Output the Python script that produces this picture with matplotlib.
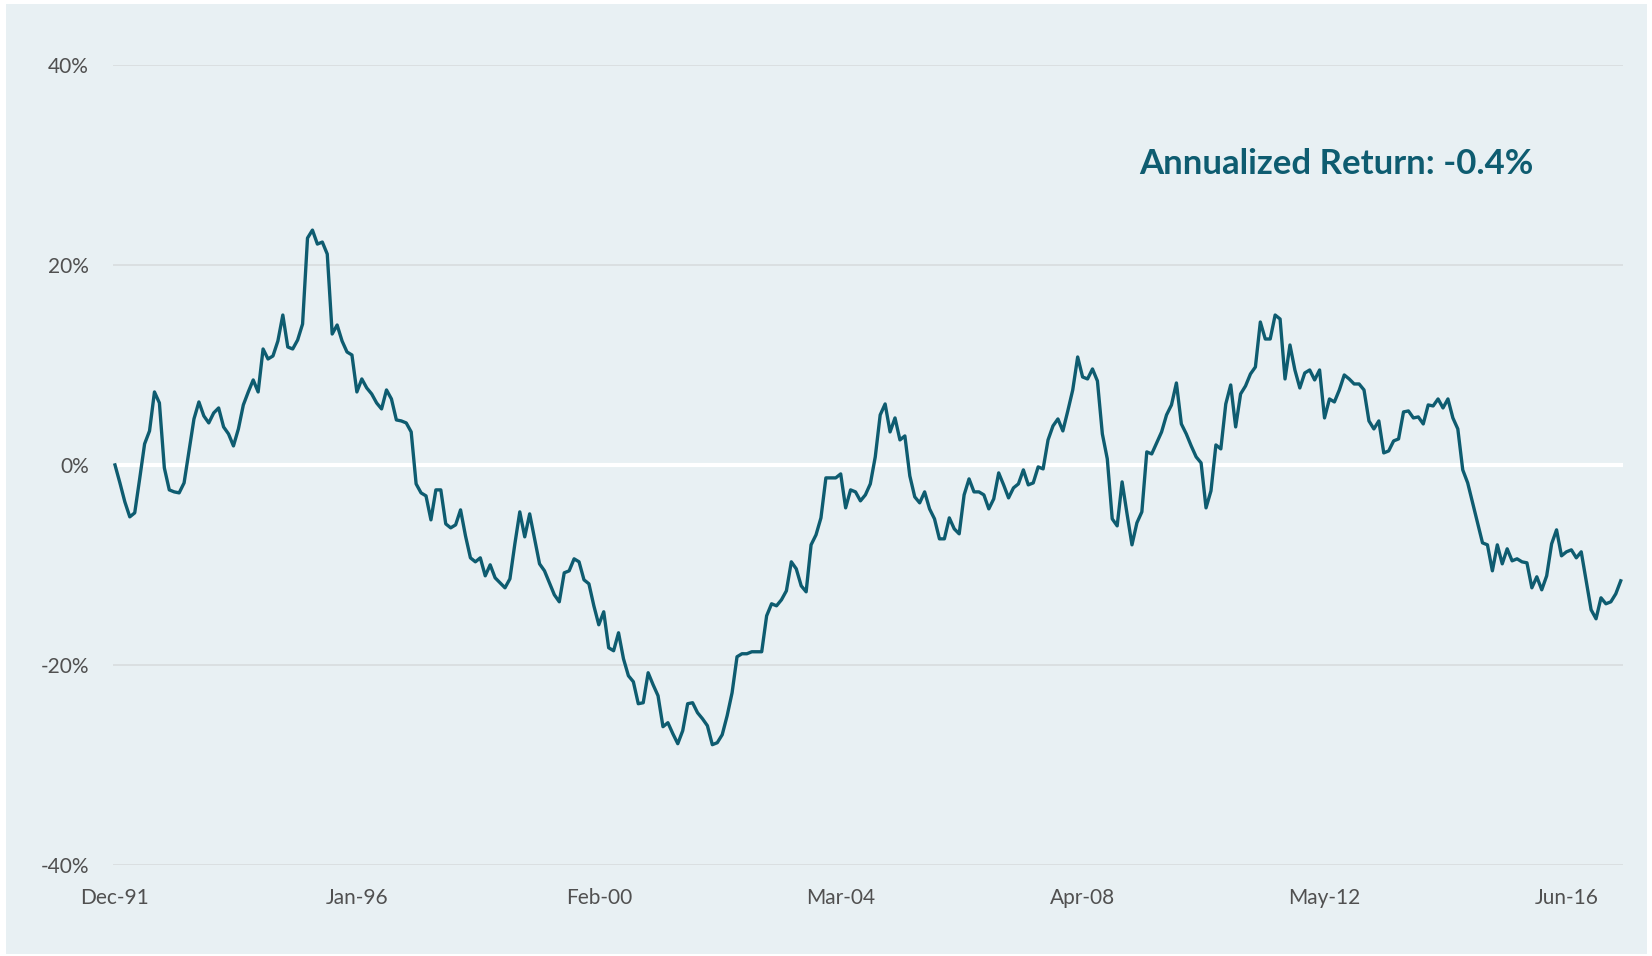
#!/usr/bin/env python3
# coding: utf-8

import numpy as np
import pandas as pd

import matplotlib
matplotlib.use("Agg")
import matplotlib.pyplot as plt
from matplotlib.patches import Rectangle


# monthly cumulative return (%), Dec-91 onwards
returns = [
    0.0, -1.8, -3.7, -5.2, -4.8, -1.4, 2.1, 3.4, 7.3, 6.2,
    -0.3, -2.5, -2.7, -2.8, -1.8, 1.4, 4.6, 6.3, 4.9, 4.2,
    5.2, 5.7, 3.8, 3.1, 1.9, 3.6, 6.0, 7.3, 8.5, 7.3,
    11.6, 10.6, 10.9, 12.4, 15.0, 11.8, 11.6, 12.5, 14.1, 22.7,
    23.5, 22.1, 22.3, 21.1, 13.1, 14.0, 12.4, 11.3, 11.0, 7.3,
    8.6, 7.7, 7.1, 6.2, 5.6, 7.5, 6.6, 4.5, 4.4, 4.2,
    3.3, -1.9, -2.8, -3.1, -5.5, -2.5, -2.5, -5.9, -6.3, -6.0,
    -4.5, -7.1, -9.3, -9.7, -9.3, -11.1, -10.0, -11.3, -11.8, -12.3,
    -11.4, -7.9, -4.7, -7.2, -4.9, -7.4, -9.9, -10.6, -11.8, -13.0,
    -13.7, -10.8, -10.6, -9.4, -9.7, -11.5, -11.9, -14.1, -16.0, -14.7,
    -18.3, -18.6, -16.8, -19.4, -21.1, -21.7, -23.9, -23.8, -20.8, -22.0,
    -23.1, -26.2, -25.8, -26.9, -27.9, -26.6, -23.9, -23.8, -24.8, -25.4,
    -26.1, -28.0, -27.8, -27.0, -25.1, -22.8, -19.2, -18.9, -18.9, -18.7,
    -18.7, -18.7, -15.1, -13.9, -14.1, -13.5, -12.6, -9.7, -10.4, -12.1,
    -12.7, -8.0, -7.0, -5.3, -1.3, -1.3, -1.3, -0.9, -4.3, -2.5,
    -2.7, -3.6, -3.0, -1.9, 0.8, 5.0, 6.1, 3.3, 4.7, 2.5,
    2.9, -1.1, -3.2, -3.8, -2.7, -4.4, -5.4, -7.4, -7.4, -5.3,
    -6.4, -6.9, -3.0, -1.4, -2.7, -2.7, -3.0, -4.4, -3.4, -0.8,
    -2.0, -3.3, -2.3, -1.9, -0.5, -2.0, -1.8, -0.2, -0.4, 2.5,
    3.9, 4.6, 3.4, 5.4, 7.5, 10.8, 8.8, 8.6, 9.6, 8.4,
    3.1, 0.6, -5.4, -6.1, -1.7, -4.9, -8.0, -5.8, -4.7, 1.3,
    1.1, 2.2, 3.3, 5.0, 6.0, 8.2, 4.1, 3.1, 1.9, 0.8,
    0.2, -4.3, -2.6, 2.0, 1.6, 6.1, 8.0, 3.8, 7.1, 7.9,
    9.1, 9.8, 14.3, 12.6, 12.6, 15.0, 14.6, 8.6, 12.0, 9.5,
    7.7, 9.2, 9.5, 8.5, 9.5, 4.7, 6.6, 6.3, 7.5, 9.0,
    8.6, 8.1, 8.1, 7.5, 4.4, 3.6, 4.4, 1.2, 1.4, 2.4,
    2.6, 5.3, 5.4, 4.7, 4.8, 4.1, 6.0, 5.9, 6.6, 5.7,
    6.6, 4.7, 3.6, -0.5, -1.8, -3.8, -5.8, -7.8, -8.0, -10.6,
    -8.0, -9.9, -8.4, -9.6, -9.4, -9.7, -9.8, -12.3, -11.2, -12.5,
    -11.1, -7.9, -6.5, -9.1, -8.7, -8.5, -9.3, -8.7, -11.6, -14.5,
    -15.4, -13.3, -13.9, -13.7, -12.9, -11.6,
]
start_month = "1991-12"
label_every = 49
y_ticks = [-40, -20, 0, 20, 40]
annotation = "Annualized Return: -0.4%"

LINE_COLOR = "#0E5C70"
BG_COLOR = "#E8F0F3"
GRID_COLOR = "#D6DADC"
TEXT_COLOR = "#505050"


def plot_return_line(dates, values, ax):
    x = np.arange(len(values))
    ax.plot(x, values, "-", c=LINE_COLOR, lw=2.4, solid_joinstyle="round", zorder=3)

    # category style x axis, a label every few months
    tick_pos = x[::label_every]
    ax.set_xticks(tick_pos)
    ax.set_xticklabels([dates[i].strftime("%b-%y") for i in tick_pos])
    ax.set_xlim(-0.5, len(values) - 0.5)

    ax.set_ylim(-40, 40)
    ax.set_yticks(y_ticks)
    ax.set_yticklabels(["%d%%" % t for t in y_ticks])

    # light grid, white zero line
    for t in y_ticks:
        if t == 0:
            ax.axhline(0, color="white", lw=3.0, zorder=2)
        else:
            ax.axhline(t, color=GRID_COLOR, lw=1.1, zorder=1)


fig = plt.figure(figsize=(16.52, 9.56), dpi=100)
fig.patch.set_facecolor("white")
# light panel behind everything, thin white margin round it
fig.patches.append(Rectangle((6 / 1652, 2 / 956), 1641 / 1652, 950 / 956,
                             transform=fig.transFigure, facecolor=BG_COLOR,
                             edgecolor="none", zorder=-10))

ax = fig.add_axes([112.5 / 1652, 1 - 864.6 / 956, 1510.7 / 1652, 799.4 / 956])
ax.set_facecolor("none")

dates = pd.date_range(start_month, periods=len(returns), freq="MS")
plot_return_line(dates, returns, ax)

for s in ax.spines.values():
    s.set_visible(False)
ax.tick_params(axis="both", length=0, labelsize=15, labelcolor=TEXT_COLOR)
ax.tick_params(axis="y", pad=17)
ax.tick_params(axis="x", pad=17)
for lab in ax.get_xticklabels() + ax.get_yticklabels():
    lab.set_family("Lato")

fig.text(1336.7 / 1652, 1 - 164.5 / 956, annotation, ha="center", va="center",
         fontsize=25, fontweight="bold", color=LINE_COLOR, family="Lato")

fig.savefig("out.png", dpi=100)
